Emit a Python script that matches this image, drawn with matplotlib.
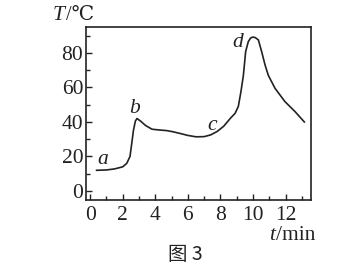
import matplotlib
matplotlib.use("Agg")
import matplotlib.pyplot as plt
from matplotlib.ticker import MultipleLocator

plt.rcParams['font.family'] = ['Liberation Serif', 'DejaVu Serif', 'Noto Sans CJK SC']

t_min = [0.4, 1.0, 1.5, 2.0, 2.25, 2.45, 2.55, 2.66, 2.78, 2.88, 3.1, 3.4, 3.8, 4.2, 4.7, 5.1, 5.5, 6.0, 6.5, 7.0, 7.4, 7.8,
         8.2, 8.6, 8.9, 9.1, 9.26, 9.41, 9.55, 9.71, 9.85, 10.0, 10.15, 10.33, 10.53, 10.74, 10.94, 11.35, 11.96, 12.58, 13.15]
T_c = [12.0, 12.2, 12.8, 14.0, 16.0, 20.0, 27.0, 35.0, 40.5, 42.0, 40.5, 38.0, 35.8, 35.4, 35.0, 34.3, 33.4, 32.2, 31.4, 31.5, 32.5, 34.5,
       37.5, 42.0, 45.0, 49.0, 57.6, 67.0, 80.8, 86.5, 88.6, 89.2, 88.8, 87.5, 80.8, 73.0, 67.0, 59.5, 51.8, 46.0, 40.0]

x_ticks = [0, 2, 4, 6, 8, 10, 12]
y_ticks = [0, 20, 40, 60, 80]
point_labels = ['a', 'b', 'c', 'd']
point_t = [0.8, 2.75, 7.5, 9.05]
point_T = [18, 48, 38, 86]

ink = '#222222'
fig = plt.figure(figsize=(3.46, 2.67), dpi=100)
ax = fig.add_axes([86/346, 1-200/267, (311-86)/346, (200-27)/267])
ax.plot(t_min, T_c, color=ink, lw=1.2)
ax.set_xlim(-0.25, 13.56)
ax.set_ylim(-5.2, 95)
ax.set_xticks(x_ticks)
ax.set_yticks(y_ticks)
ax.xaxis.set_minor_locator(MultipleLocator(1))
ax.yaxis.set_minor_locator(MultipleLocator(10))
ax.tick_params(which='both', direction='in', width=1.0, color=ink, labelsize=15.5, labelcolor=ink)
ax.tick_params(which='major', length=4)
ax.tick_params(which='minor', length=3)
ax.tick_params(axis='x', pad=4)
ax.tick_params(axis='y', pad=2)
for s in ax.spines.values():
    s.set_linewidth(1.2)
    s.set_color(ink)

for lab, x, y in zip(point_labels, point_t, point_T):
    ax.text(x, y, lab, fontsize=15.5, style='italic', ha='center', va='center', color=ink)

fig.text(65/346, 1-15/267, 'T', fontsize=15.5, style='italic', ha='right', va='center', color=ink)
fig.text(66/346, 1-15/267, '/℃', fontsize=14.5, ha='left', va='center', color=ink,
         family=['Liberation Serif', 'DejaVu Serif'])
fig.text(275/346, 1-235/267, 't', fontsize=15.5, style='italic', ha='right', va='center', color=ink)
fig.text(276/346, 1-235/267, '/min', fontsize=15.5, ha='left', va='center', color=ink)
fig.text(185/346, 1-255/267, '图 3', fontsize=14, ha='center', va='center', color=ink,
         family=['Noto Sans CJK SC', 'DejaVu Sans'])

fig.savefig('out.png', dpi=100)
